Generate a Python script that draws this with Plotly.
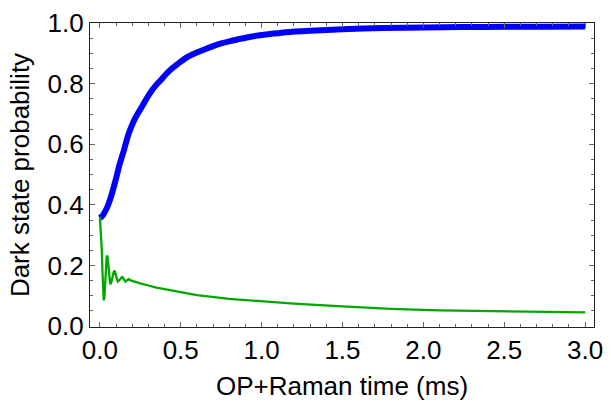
import plotly.graph_objects as go

# Data
t_blue = [0, 0.01, 0.02, 0.03, 0.045, 0.06, 0.075, 0.09, 0.105, 0.12, 0.135, 0.15, 0.165, 0.18, 0.20, 0.22,
          0.24, 0.26, 0.29, 0.32, 0.35, 0.38, 0.41, 0.44, 0.49, 0.54, 0.60, 0.65, 0.70, 0.75, 0.80,
          0.85, 0.90, 0.95, 1.0, 1.05, 1.10, 1.15, 1.3, 1.5, 1.75, 2.0, 2.25, 2.5, 2.75, 3.0]
p_blue = [0.357, 0.361, 0.367, 0.376, 0.392, 0.413, 0.438, 0.467, 0.498, 0.530, 0.557, 0.583, 0.612, 0.638,
          0.665, 0.688, 0.707, 0.724, 0.752, 0.777, 0.797, 0.814, 0.832, 0.848, 0.869, 0.888, 0.903, 0.914,
          0.924, 0.933, 0.940, 0.946, 0.952, 0.957, 0.961, 0.964, 0.967, 0.970, 0.975, 0.980, 0.984, 0.986,
          0.987, 0.988, 0.988, 0.989]

t_green = [0, 0.004, 0.008, 0.012, 0.016, 0.020, 0.024, 0.028, 0.033, 0.038, 0.042, 0.046, 0.050, 0.055,
           0.060, 0.065, 0.071, 0.078, 0.085, 0.091, 0.096, 0.101, 0.106, 0.111, 0.118, 0.124, 0.130,
           0.137, 0.143, 0.148, 0.153, 0.158, 0.163, 0.168, 0.173, 0.178, 0.19, 0.20, 0.25, 0.30, 0.35,
           0.45, 0.60, 0.80, 1.0, 1.2, 1.5, 1.8, 2.1, 2.5, 3.0]
p_green = [0.360, 0.330, 0.290, 0.250, 0.180, 0.110, 0.085, 0.095, 0.150, 0.205, 0.228, 0.233, 0.220, 0.190,
           0.158, 0.138, 0.145, 0.165, 0.178, 0.183, 0.176, 0.165, 0.154, 0.147, 0.150, 0.155, 0.160,
           0.162, 0.160, 0.155, 0.150, 0.147, 0.149, 0.152, 0.155, 0.155, 0.151, 0.149, 0.141, 0.134, 0.127,
           0.117, 0.102, 0.090, 0.082, 0.074, 0.065, 0.057, 0.052, 0.048, 0.045]

x_ticks = [0.0, 0.5, 1.0, 1.5, 2.0, 2.5, 3.0]
y_ticks = [0.0, 0.2, 0.4, 0.6, 0.8, 1.0]

fig = go.Figure()
fig.add_trace(go.Scatter(x=t_blue, y=p_blue, mode="lines",
                         line=dict(color="#0000ff", width=6, shape="spline", smoothing=0.6),
                         showlegend=False))
fig.add_trace(go.Scatter(x=t_green, y=p_green, mode="lines",
                         line=dict(color="#00a800", width=2.3),
                         showlegend=False))

font_family = "Liberation Sans, Arial, sans-serif"
axis_common = dict(
    showline=True, linecolor="#222222", linewidth=1.3, mirror="allticks",
    ticks="inside", ticklen=5, tickwidth=1, tickcolor="#666666",
    showgrid=False, zeroline=False, ticklabeloverflow="allow",
    tickfont=dict(family=font_family, size=26, color="black"),
)

fig.update_xaxes(
    range=[-0.061, 3.055], tickvals=x_ticks, ticktext=[f"{v:.1f}" for v in x_ticks],
    minor=dict(dtick=0.1, tick0=0, ticks="inside", ticklen=3, tickcolor="#666666"),
    title=dict(text="OP+Raman time (ms)", font=dict(family=font_family, size=26, color="black"), standoff=12),
    **axis_common,
)
fig.update_yaxes(
    range=[-0.003, 1.0005], tickvals=y_ticks, ticktext=[f"{v:.1f}" for v in y_ticks],
    minor=dict(dtick=0.05, tick0=0, ticks="inside", ticklen=3, tickcolor="#666666"),
    title=dict(text="Dark state probability", font=dict(family=font_family, size=26, color="black"), standoff=10),
    **axis_common,
)

fig.update_layout(
    width=611, height=404,
    margin=dict(l=90, r=8, t=11, b=76),
    paper_bgcolor="white", plot_bgcolor="white",
)

fig.write_html("out.html")
